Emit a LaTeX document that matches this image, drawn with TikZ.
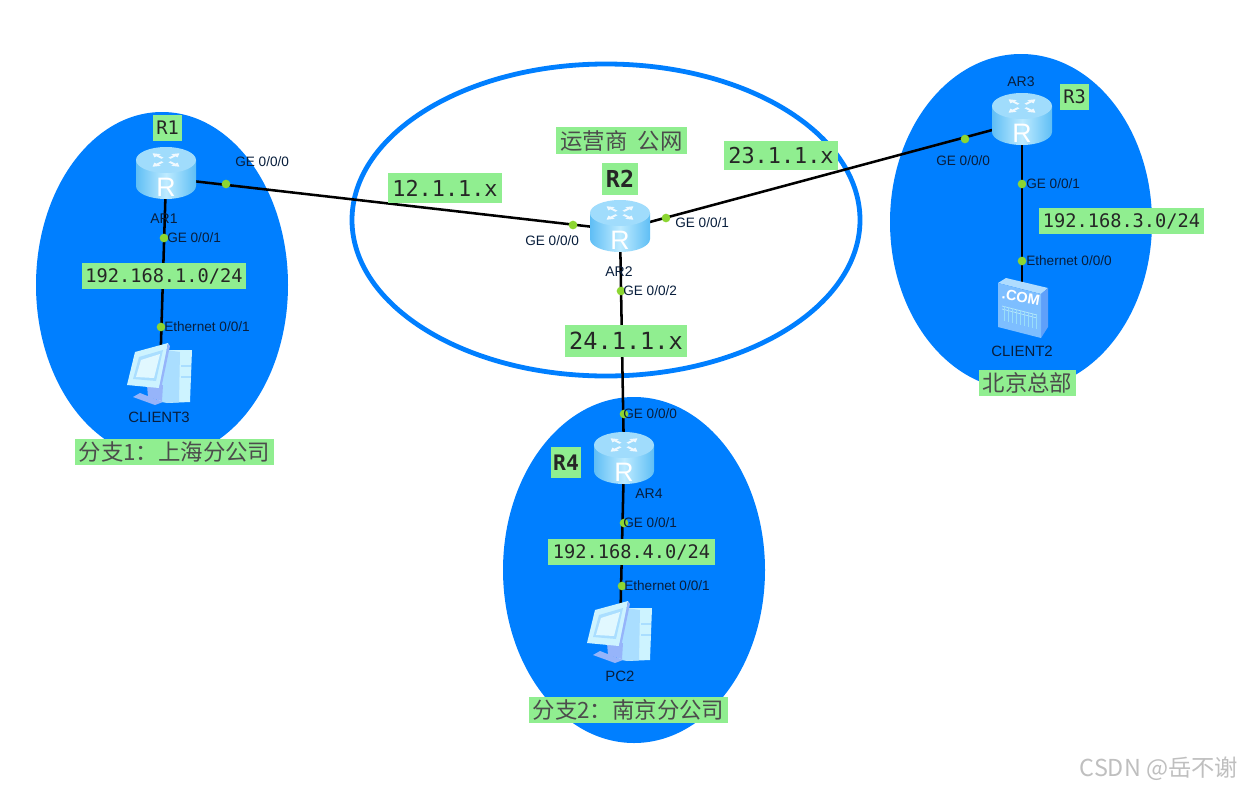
\documentclass[tikz,border=0pt]{standalone}
\usepackage{fontspec}
\setmainfont{Liberation Sans}
\newfontfamily\cjkf{Noto Sans CJK SC}
\newfontfamily\monof{DejaVu Sans Mono}
\definecolor{zone}{RGB}{0,127,255}
\definecolor{tagg}{RGB}{144,238,144}
\definecolor{dotg}{RGB}{140,214,50}
\definecolor{inkd}{RGB}{8,30,60}
\definecolor{rside}{RGB}{95,190,245}
\definecolor{rmid}{RGB}{190,235,255}
\definecolor{rtop}{RGB}{160,220,252}
\definecolor{pcpale}{RGB}{205,243,255}
\definecolor{pcmid}{RGB}{170,222,255}
\definecolor{pcblue}{RGB}{150,180,250}
\definecolor{srvfront}{RGB}{125,190,255}
\definecolor{srvtop}{RGB}{175,220,255}
\definecolor{srvside}{RGB}{95,160,250}
\tikzset{
  x=0.75pt,y=-0.75pt,
  zonefill/.style={fill=zone,draw=none},
  link/.style={draw=black,line width=1.9pt},
  port/.style={circle,fill=dotg,draw=none,minimum size=6.5pt,inner sep=0pt},
  iflabel/.style={font=\fontsize{10.2}{11}\selectfont,text=inkd,inner sep=0pt},
  arlabel/.style={font=\fontsize{10.5}{11}\selectfont,text=inkd,inner sep=0pt},
  devlabel/.style={font=\fontsize{11.2}{12}\selectfont,text=inkd,inner sep=0pt},
  tag/.style={fill=tagg,text=black!85,inner sep=0pt,minimum height=19.5pt,anchor=center},
  monotag/.style={tag,font=\monof\fontsize{14}{16}\selectfont},
  cjktag/.style={tag,font=\cjkf\fontsize{16.8}{18}\selectfont,text=black!70},
  devbox/.style={inner sep=0pt,minimum width=45pt,minimum height=38pt},
  pics/routericon/.style={code={
    \shade[left color=rside,right color=rside,middle color=rmid]
      (-30,-14) -- (-30,12) arc[start angle=180,end angle=0,x radius=30,y radius=13] -- (30,-14) -- cycle;
    \fill[rtop] (0,-14) ellipse[x radius=30,y radius=13];
    \begin{scope}[shift={(0,-14)},yscale=0.5]
      \foreach \a in {45,135,225,315}{
        \fill[white,opacity=0.85,rotate=\a] (5,-1.5) -- (12,-1.5) -- (12,-4.5) -- (19,0) -- (12,4.5) -- (12,1.5) -- (5,1.5) -- cycle;
      }
    \end{scope}
    \node[text=white,inner sep=0pt,font=\fontsize{20}{20}\selectfont] at (0,13) {R};
  }},
  pics/pcicon/.style={code={
    \fill[pcpale] (8,-25) -- (32,-25) -- (30,27) -- (7,28) -- cycle;
    \fill[pcmid] (6,-25) -- (20,-23) -- (19,27) -- (7,28) -- (-3,26) -- (-3,12) -- cycle;
    \draw[pcmid,line width=0.8pt] (21,-9) -- (31,-9) (21,2) -- (31,2);
    \fill[pcblue] (-27,22) -- (-5,30) -- (3,27) -- (-20,18) -- cycle;
    \fill[pcblue] (-13,10) -- (-12,22) -- (2,26) -- (3,10) -- cycle;
    \fill[pcpale] (-25,-23) -- (8,-32) -- (-1,13) -- (-33,10) -- cycle;
    \fill[pcblue] (8,-32) -- (10,-29) -- (1,14) -- (-1,13) -- cycle;
    \fill[pcmid] (-21,-18) -- (3,-25) -- (-4,6) -- (-27,4) -- cycle;
    \fill[pcpale!60!white] (-19,-15) -- (0,-21) -- (-6,3) -- (-24,2) -- cycle;
  }},
  pics/servericon/.style={code={
    \fill[srvtop] (-24,-25) -- (-16,-30) -- (26,-20) -- (19,-14) -- cycle;
    \fill[srvside] (26,-20) -- (26,19) -- (19,30) -- (19,-14) -- cycle;
    \fill[srvfront] (-24,-25) -- (19,-14) -- (19,30) -- (-24,19) -- cycle;
    \node[text=white,inner sep=0pt,rotate=-10,font=\bfseries\fontsize{11}{11}\selectfont] at (-1,-11) {.COM};
    \draw[white!75!cyan,line width=0.5pt] (-20,-2) -- (15,7) (-20,1) -- (15,10);
    \foreach \i in {-18,-14,...,14}{
      \draw[white!60!cyan,line width=0.4pt] (\i,2+\i*0.25) -- (\i,17+\i*0.25);
    }
  }},
}
\begin{document}
\begin{tikzpicture}
\useasboundingbox (0,0) rectangle (1242,789);
\fill[white] (0,0) rectangle (1242,789);

% zones
\fill[zonefill] (162,285) ellipse[x radius=126,y radius=173];
\fill[zonefill] (1021,222) ellipse[x radius=131,y radius=168];
\fill[zonefill] (634,570) ellipse[x radius=131,y radius=173];
\draw[zone,line width=3.6pt] (606,220) ellipse[x radius=254,y radius=156];

% device anchors
\node[devbox] (r1) at (166,178) {};
\node[devbox] (r2) at (620,230) {};
\node[devbox] (r3) at (1022,122) {};
\node[devbox] (r4) at (624,459) {};
\node[devbox] (client3) at (160,375) {};
\node[devbox] (client2) at (1022,308) {};
\node[devbox] (pc2) at (620,633) {};

% connectors
\draw[link] (r1.center) -- (r2.center);
\draw[link] (r2.center) -- (r3.center);
\draw[link] (r2.center) -- (r4.center);
\draw[link] (r1.center) -- (client3.center);
\draw[link] (r3.center) -- (client2.center);
\draw[link] (r4.center) -- (pc2.center);

% icons
\pic at (166,174) {routericon};
\pic at (620,227) {routericon};
\pic at (1022,120) {routericon};
\pic at (624,459) {routericon};
\pic at (client3.center) {pcicon};
\pic at (pc2.center) {pcicon};
\pic at (client2.center) {servericon};

% port dots
\node[port] (p1) at (226,184) {};
\node[port] (p2) at (164,238) {};
\node[port] (p3) at (161,327) {};
\node[port] (p4) at (573,225) {};
\node[port] (p5) at (666,218) {};
\node[port] (p6) at (621,291) {};
\node[port] (p7) at (965,139) {};
\node[port] (p8) at (1022,184) {};
\node[port] (p9) at (1022,261) {};
\node[port] (p10) at (624,414) {};
\node[port] (p11) at (624,523) {};
\node[port] (p12) at (622,586) {};

% interface labels
\node[iflabel,anchor=west] (l1) at (235,162) {GE 0/0/0};
\node[iflabel,anchor=west] (l2) at (167,238) {GE 0/0/1};
\node[iflabel,anchor=west] (l3) at (164,327) {Ethernet 0/0/1};
\node[iflabel,anchor=west] (l4) at (525,241) {GE 0/0/0};
\node[iflabel,anchor=west] (l5) at (675,223) {GE 0/0/1};
\node[iflabel,anchor=west] (l6) at (623,291) {GE 0/0/2};
\node[iflabel,anchor=west] (l7) at (936,161) {GE 0/0/0};
\node[iflabel,anchor=west] (l8) at (1026,184) {GE 0/0/1};
\node[iflabel,anchor=west] (l9) at (1026,261) {Ethernet 0/0/0};
\node[iflabel,anchor=west] (l10) at (623,414) {GE 0/0/0};
\node[iflabel,anchor=west] (l11) at (623,523) {GE 0/0/1};
\node[iflabel,anchor=west] (l12) at (624,586) {Ethernet 0/0/1};

% device labels
\node[arlabel] (d1) at (164,219) {AR1};
\node[arlabel] (d2) at (619,272) {AR2};
\node[arlabel] (d3) at (1021,82) {AR3};
\node[arlabel] (d4) at (649,494) {AR4};
\node[devlabel] (d5) at (159,417) {CLIENT3};
\node[devlabel] (d6) at (1022,351) {CLIENT2};
\node[devlabel] (d7) at (620,676) {PC2};

% tags
\node[monotag,minimum width=22pt] (t1) at (167.5,127.5) {R1};
\node[monotag,minimum width=123pt] (t2) at (164,276) {192.168.1.0/24};
\node[cjktag,minimum width=149pt] (t3) at (174.5,452) {分支1：上海分公司};
\node[cjktag,minimum width=98pt,minimum height=20pt] (t4) at (621.5,140.5) {运营商\ \ 公网};
\node[tag,font=\monof\bfseries\fontsize{17.5}{19}\selectfont,minimum width=27pt,minimum height=24pt] (t5) at (620,179) {R2};
\node[tag,font=\monof\fontsize{16.4}{18}\selectfont,minimum width=85pt,minimum height=22pt] (t6) at (445,188) {12.1.1.x};
\node[tag,font=\monof\fontsize{16.4}{18}\selectfont,minimum width=85pt,minimum height=22pt] (t7) at (781,155.5) {23.1.1.x};
\node[tag,font=\monof\fontsize{17.7}{19}\selectfont,minimum width=91pt,minimum height=24pt] (t8) at (626,341) {24.1.1.x};
\node[monotag,minimum width=22pt] (t9) at (1074.5,97) {R3};
\node[monotag,minimum width=124pt] (t10) at (1121.5,221) {192.168.3.0/24};
\node[cjktag,minimum width=73pt] (t11) at (1027.5,383) {北京总部};
\node[tag,font=\monof\bfseries\fontsize{16}{18}\selectfont,minimum width=22.5pt,minimum height=23pt] (t12) at (566,462.5) {R4};
\node[monotag,minimum width=125pt] (t13) at (631.5,552) {192.168.4.0/24};
\node[cjktag,minimum width=149pt] (t14) at (628.5,710) {分支2：南京分公司};

% watermark
\node[text=black!25,inner sep=0pt,font=\cjkf\fontsize{17.5}{19}\selectfont] (wm) at (1159,769) {CSDN @岳不谢};
\end{tikzpicture}
\end{document}
